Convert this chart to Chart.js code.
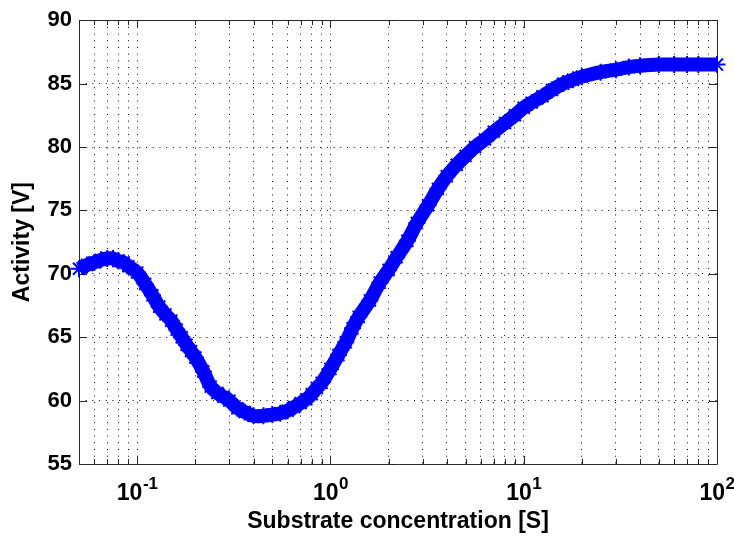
<!DOCTYPE html>
<html>
<head>
<meta charset="utf-8">
<script src="https://cdn.jsdelivr.net/npm/chart.js@4/dist/chart.umd.min.js"></script>
<style>
html,body{margin:0;padding:0;background:#fff;}
canvas{display:block;}
</style>
</head>
<body>
<canvas id="c" width="734" height="539"></canvas>
<script>
// ---- data ----
const concentration = [0.05,0.055,0.06,0.065,0.07,0.075,0.08,0.085,0.09,0.1,
  0.11,0.12,0.13,0.14,0.15,0.16,0.17,0.18,0.19,0.2,
  0.22,0.24,0.26,0.28,0.3,0.33,0.36,0.4,0.45,0.5,
  0.55,0.6,0.65,0.7,0.75,0.8,0.85,0.9,1.0,1.1,
  1.2,1.3,1.4,1.6,1.8,2.0,2.2,2.5,2.8,3.2,
  3.6,4.0,4.5,5.0,5.6,6.3,7.0,8.0,9.0,10,
  11,12.5,14,16,18,20,25,30,35,40,
  50,60,70,80,100];
const activity = [70.4,70.7,70.9,71.1,71.2,71.2,71.0,70.9,70.6,70.1,
  69.2,68.3,67.4,66.8,66.3,65.6,65.0,64.4,63.9,63.4,
  62.3,61.1,60.6,60.3,60.0,59.4,59.1,58.8,58.8,58.9,
  59.0,59.2,59.5,59.8,60.1,60.5,61.0,61.4,62.5,63.6,
  64.6,65.7,66.6,67.9,69.3,70.3,71.3,72.6,74.0,75.4,
  76.7,77.7,78.6,79.3,80.0,80.6,81.2,81.9,82.5,83.1,
  83.5,84.0,84.5,85.0,85.3,85.55,85.9,86.1,86.3,86.4,
  86.5,86.5,86.5,86.5,86.5];
const xGridValues = [0.05,0.06,0.07,0.08,0.09,0.1,0.2,0.3,0.4,0.5,0.6,0.7,0.8,0.9,
  1,2,3,4,5,6,7,8,9,10,20,30,40,50,60,70,80,90,100];
const decadeValues = [0.1,1,10,100];
const decadeExponents = ['-1','0','1','2'];
const yTickValues = [55,60,65,70,75,80,85,90];
const xTitle = 'Substrate concentration [S]';
const yTitle = 'Activity [V]';

const FONT = '"Liberation Sans", Arial, Helvetica, sans-serif';

const points = concentration.map((c,i)=>({x:c, y:activity[i]}));

const frame = {
  id:'frame',
  beforeDatasetsDraw(chart){
    const {ctx, chartArea:a, scales} = chart;
    ctx.save();
    ctx.strokeStyle = '#262626';
    ctx.lineWidth = 1;
    ctx.beginPath();
    ctx.rect(Math.round(a.left)+0.5, Math.round(a.top)+0.5, Math.round(a.right-a.left), Math.round(a.bottom-a.top));
    ctx.stroke();
    ctx.beginPath();
    xGridValues.forEach(v=>{
      const px = Math.round(scales.x.getPixelForValue(v))+0.5;
      const len = decadeValues.includes(v) ? 8 : 5;
      ctx.moveTo(px, a.bottom); ctx.lineTo(px, a.bottom-len);
      ctx.moveTo(px, a.top); ctx.lineTo(px, a.top+len);
    });
    yTickValues.forEach(v=>{
      const py = Math.round(scales.y.getPixelForValue(v))+0.5;
      ctx.moveTo(a.left, py); ctx.lineTo(a.left+8, py);
      ctx.moveTo(a.right, py); ctx.lineTo(a.right-8, py);
    });
    ctx.stroke();
    ctx.restore();
  },
  afterDraw(chart){
    const {ctx, scales} = chart;
    ctx.save();
    ctx.fillStyle = '#000';
    ctx.textAlign = 'left';
    ctx.textBaseline = 'alphabetic';
    decadeValues.forEach((v,i)=>{
      const px = scales.x.getPixelForValue(v);
      ctx.font = 'bold 23px ' + FONT;
      const w1 = ctx.measureText('10').width;
      ctx.font = 'bold 17px ' + FONT;
      const w2 = ctx.measureText(decadeExponents[i]).width;
      const x0 = px - (w1 + w2) / 2;
      ctx.font = 'bold 23px ' + FONT;
      ctx.fillText('10', x0, 500);
      ctx.font = 'bold 17px ' + FONT;
      ctx.fillText(decadeExponents[i], x0 + w1 + 0.5, 489);
    });
    ctx.restore();
  }
};

new Chart(document.getElementById('c'), {
  type:'line',
  data:{
    datasets:[{
      data: points,
      borderColor:'#0000ff',
      backgroundColor:'#0000ff',
      borderWidth:14,
      tension:0.35,
      pointStyle:'star',
      pointRadius:8.5,
      pointBorderWidth:2,
      pointBorderColor:'#0000ff',
      pointBackgroundColor:'#0000ff',
      clip:false
    }]
  },
  options:{
    responsive:false,
    animation:false,
    devicePixelRatio:1,
    layout:{padding:{left:0, top:15, right:17, bottom:0}},
    plugins:{legend:{display:false}, tooltip:{enabled:false}},
    scales:{
      x:{
        type:'logarithmic',
        min:0.05, max:100,
        afterBuildTicks(scale){ scale.ticks = xGridValues.map(v=>({value:v})); },
        afterFit(scale){ scale.height = 75; },
        ticks:{display:false},
        grid:{color:'#000', lineWidth:1, drawTicks:false},
        border:{display:false, dash:[1,5.7]},
        title:{display:true, text:xTitle, color:'#000',
          font:{family:FONT, size:23, weight:'bold'}, padding:{top:0,bottom:4}}
      },
      y:{
        type:'linear',
        min:55, max:90,
        afterBuildTicks(scale){ scale.ticks = yTickValues.map(v=>({value:v})); },
        afterFit(scale){ scale.width = 79; },
        ticks:{color:'#000', padding:7, font:{family:FONT, size:22, weight:'bold'}},
        grid:{color:'#000', lineWidth:1, drawTicks:false},
        border:{display:false, dash:[1,5.7]},
        title:{display:true, text:yTitle, color:'#000',
          font:{family:FONT, size:23, weight:'bold'}, padding:{top:9,bottom:0}}
      }
    }
  },
  plugins:[frame]
});
</script>
</body>
</html>
